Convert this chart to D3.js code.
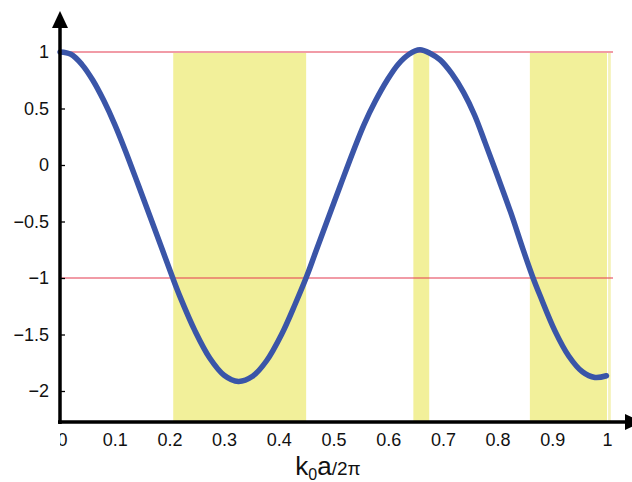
<!DOCTYPE html>
<html>
<head>
<meta charset="utf-8">
<script src="https://cdn.jsdelivr.net/npm/d3@7"></script>
<style>
  body { margin: 0; background: #fff; }
  svg { display: block; font-family: "Liberation Sans", Arial, sans-serif; }
</style>
</head>
<body>
<div id="graph"></div>
<script>
const w = 632;
const h = 482;

// curve: k0a/2pi -> value
const kValues = [0, 0.02, 0.04, 0.06, 0.08, 0.10, 0.12, 0.143, 0.168, 0.189, 0.205, 0.219, 0.247, 0.274, 0.300, 0.326,
                 0.352, 0.378, 0.405, 0.430, 0.451, 0.467, 0.488, 0.513, 0.536, 0.556, 0.577, 0.598, 0.618, 0.638, 0.658,
                 0.678, 0.695, 0.716, 0.738, 0.758, 0.777, 0.800, 0.824, 0.846, 0.863, 0.878, 0.905, 0.930, 0.955, 0.978, 0.999];
const fValues = [1.0, 0.98, 0.89, 0.75, 0.57, 0.36, 0.12, -0.175, -0.50, -0.775, -0.985, -1.16, -1.47, -1.71, -1.86, -1.915,
                 -1.87, -1.73, -1.50, -1.23, -0.985, -0.775, -0.50, -0.175, 0.12, 0.36, 0.57, 0.75, 0.89, 0.98, 1.02,
                 0.985, 0.93, 0.81, 0.64, 0.44, 0.20, -0.10, -0.42, -0.74, -0.975, -1.16, -1.47, -1.69, -1.83, -1.88, -1.865];

// band gaps (shaded)
const bandStart = [0.207, 0.646, 0.859];
const bandEnd = [0.450, 0.675, 1.0];

// red reference levels
const levels = [1, -1];

const xTicks = [0, 0.1, 0.2, 0.3, 0.4, 0.5, 0.6, 0.7, 0.8, 0.9, 1];
const yTicks = [1, 0.5, 0, -0.5, -1, -1.5, -2];
const yBottom = -2.274;

const svg = d3.select('#graph')
              .append('svg')
              .attr('width', w)
              .attr('height', h);

const xScale = d3.scaleLinear().domain([0, 1]).range([60, 607]);
const yScale = d3.scaleLinear().domain([-2, 1]).range([391, 52]);
const axisY = yScale(yBottom);

// shaded bands
svg.selectAll('.band')
   .data(bandStart)
   .enter()
   .append('rect')
   .attr('class', 'band')
   .attr('x', d => xScale(d))
   .attr('y', yScale(1) + 1)
   .attr('width', (d, i) => xScale(bandEnd[i]) - xScale(d))
   .attr('height', axisY - yScale(1) - 1)
   .style('fill', '#f2f09a')

// thin pale strip next to the last band
svg.append('rect')
   .attr('x', xScale(1.002))
   .attr('y', yScale(1) + 1)
   .attr('width', xScale(1.007) - xScale(1.002))
   .attr('height', axisY - yScale(1) - 1)
   .style('fill', '#f4f2b8')

// red lines at +1 and -1
svg.selectAll('.level')
   .data(levels)
   .enter()
   .append('line')
   .attr('x1', xScale(0))
   .attr('x2', xScale(1.011))
   .attr('y1', d => yScale(d))
   .attr('y2', d => yScale(d))
   .style('stroke', '#e3384f')
   .style('stroke-width', 1.1)

// y axis ticks + labels
const yAxis = d3.axisLeft(yScale)
                .tickValues(yTicks)
                .tickFormat(d3.format('~g'))
                .tickSizeInner(-5)
                .tickSizeOuter(0)
                .tickPadding(11)
svg.append('g')
   .attr('transform', 'translate(' + xScale(0) + ',0)')
   .call(yAxis)
   .call(g => g.select('.domain').remove())
   .call(g => g.selectAll('line').style('stroke', '#000').style('stroke-width', 1.3))
   .call(g => g.selectAll('text').style('font-size', '18px').style('fill', '#111').style('font-family', '"Liberation Sans", Arial, sans-serif'))

// clip so the "0" on the x axis is cut at the y axis like the original
svg.append('clipPath')
   .attr('id', 'xclip')
   .append('rect')
   .attr('x', xScale(0))
   .attr('y', 0)
   .attr('width', w)
   .attr('height', h)

const xAxis = d3.axisBottom(xScale)
                .tickValues(xTicks)
                .tickFormat(d3.format('~g'))
                .tickSizeInner(-5)
                .tickSizeOuter(0)
                .tickPadding(11)
svg.append('g')
   .attr('transform', 'translate(0,' + axisY + ')')
   .attr('clip-path', 'url(#xclip)')
   .call(xAxis)
   .call(g => g.select('.domain').remove())
   .call(g => g.selectAll('line').style('stroke', '#000').style('stroke-width', 1.3))
   .call(g => g.selectAll('text').style('font-size', '18px').style('fill', '#111').style('font-family', '"Liberation Sans", Arial, sans-serif'))
   .call(g => g.selectAll('text').filter(d => d === 0).attr('x', 2))

// the curve
const line = d3.line()
               .x((d, i) => xScale(kValues[i]))
               .y(d => yScale(d))
               .curve(d3.curveCatmullRom.alpha(0.5))
svg.append('path')
   .attr('d', line(fValues))
   .style('fill', 'none')
   .style('stroke', '#3a55a8')
   .style('stroke-width', 5.5)
   .style('stroke-linecap', 'round')

// thick axis lines with arrow heads
svg.append('line')
   .attr('x1', xScale(0)).attr('x2', xScale(0))
   .attr('y1', axisY + 2).attr('y2', 26)
   .style('stroke', '#000').style('stroke-width', 3.5)
svg.append('line')
   .attr('x1', xScale(0) - 2).attr('x2', 628)
   .attr('y1', axisY).attr('y2', axisY)
   .style('stroke', '#000').style('stroke-width', 3.5)
svg.append('path')
   .attr('d', 'M' + (xScale(0) - 8) + ',28 L' + xScale(0) + ',11 L' + (xScale(0) + 8) + ',28 Z')
   .style('fill', '#000')
svg.append('path')
   .attr('d', 'M625,' + (axisY - 8) + ' L642,' + axisY + ' L625,' + (axisY + 8) + ' Z')
   .style('fill', '#000')

// x label k0a/2pi
const xlab = svg.append('text')
   .attr('x', xScale(0.49))
   .attr('y', 475)
   .attr('text-anchor', 'middle')
   .style('fill', '#111')
xlab.append('tspan').text('k').style('font-size', '26px')
xlab.append('tspan').text('0').style('font-size', '16px').attr('dy', 5)
xlab.append('tspan').text('a').style('font-size', '26px').attr('dy', -5)
xlab.append('tspan').text('/2π').style('font-size', '19px')
</script>
</body>
</html>
